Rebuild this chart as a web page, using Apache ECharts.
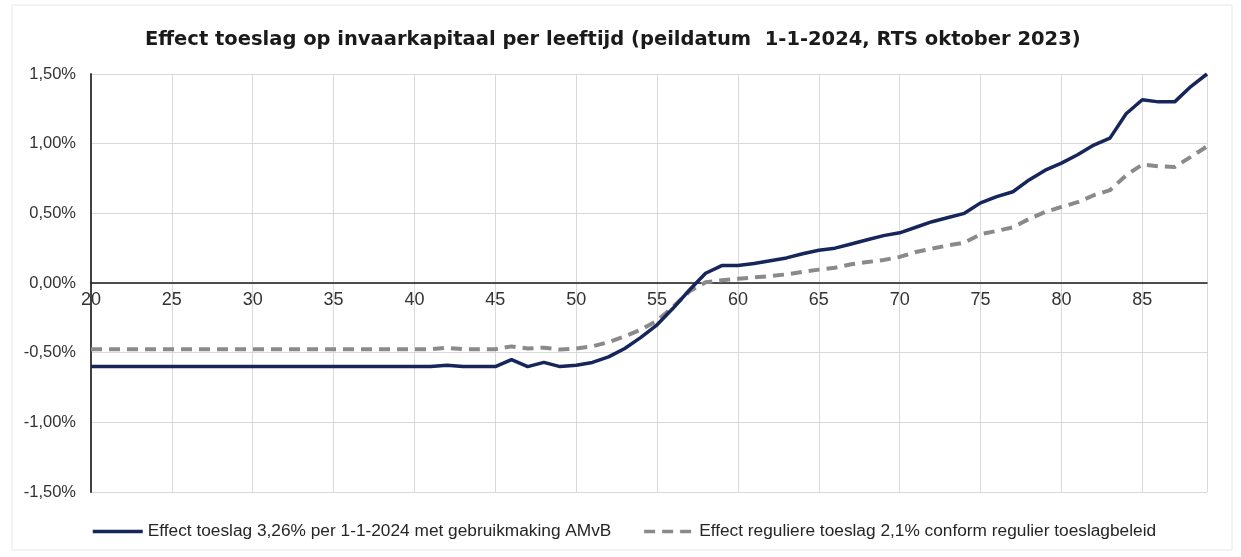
<!DOCTYPE html>
<html>
<head>
<meta charset="utf-8">
<script src="https://cdn.jsdelivr.net/npm/echarts@6/dist/echarts.min.js"></script>
<style>
  html, body { margin: 0; padding: 0; background: #fff; }
  #chart { width: 1241px; height: 557px; }
</style>
</head>
<body>
<div id="chart"></div>
<script>
// leeftijd 20..89
const ages = [];
for (let a = 20; a <= 89; a++) ages.push(a);

// effect toeslag 3,26% (in %), per leeftijd 20..89
const toeslagAmvb = [
  -0.60, -0.60, -0.60, -0.60, -0.60, -0.60, -0.60, -0.60, -0.60, -0.60, // 20-29
  -0.60, -0.60, -0.60, -0.60, -0.60, -0.60, -0.60, -0.60, -0.60, -0.60, // 30-39
  -0.60, -0.60, -0.59, -0.60, -0.60, -0.60, -0.55, -0.60, -0.57, -0.60, // 40-49
  -0.59, -0.57, -0.53, -0.47, -0.39, -0.30, -0.18, -0.05, 0.07, 0.125, // 50-59
  0.125, 0.14, 0.16, 0.18, 0.21, 0.235, 0.25, 0.28, 0.31, 0.34,        // 60-69
  0.36, 0.40, 0.44, 0.47, 0.50, 0.575, 0.62, 0.655, 0.74, 0.81,         // 70-79
  0.86, 0.92, 0.99, 1.04, 1.215, 1.315, 1.30, 1.30, 1.41, 1.50          // 80-89
];

// effect reguliere toeslag 2,1% (in %)
const toeslagRegulier = [
  -0.475, -0.475, -0.475, -0.475, -0.475, -0.475, -0.475, -0.475, -0.475, -0.475,
  -0.475, -0.475, -0.475, -0.475, -0.475, -0.475, -0.475, -0.475, -0.475, -0.475,
  -0.475, -0.475, -0.465, -0.475, -0.475, -0.475, -0.455, -0.47, -0.464, -0.478,
  -0.47, -0.455, -0.424, -0.383, -0.335, -0.27, -0.17, -0.06, 0.005, 0.02,
  0.03, 0.04, 0.05, 0.062, 0.08, 0.096, 0.11, 0.134, 0.15, 0.165,
  0.187, 0.223, 0.247, 0.27, 0.29, 0.35, 0.374, 0.40, 0.46, 0.51,
  0.546, 0.58, 0.63, 0.666, 0.773, 0.85, 0.838, 0.833, 0.905, 0.98
];

const yTicks = [-1.5, -1.0, -0.5, 0, 0.5, 1.0, 1.5];

const seriesNames = [
  'Effect toeslag 3,26% per 1-1-2024 met gebruikmaking AMvB',
  'Effect reguliere toeslag 2,1% conform regulier toeslagbeleid'
];

const chart = echarts.init(document.getElementById('chart'));

const pct = (v) => v.toFixed(2).replace('.', ',') + '%';

// x axis sits on the 0% line: half of the plot height up from the bottom
const gridTop = 74, gridBottom = 65;
const plotH = 557 - gridTop - gridBottom;
const zeroOffset = -plotH * (0 - yTicks[0]) / (yTicks[yTicks.length - 1] - yTicks[0]);

chart.setOption({
  animation: false,
  textStyle: { fontFamily: 'Liberation Sans, Arial, sans-serif' },
  title: {
    text: 'Effect toeslag op invaarkapitaal per leeftijd (peildatum  1-1-2024, RTS oktober 2023)',
    left: 140,
    top: 25,
    textStyle: { fontSize: 19.5, fontWeight: 'bold', color: '#1a1a1a', fontFamily: 'DejaVu Sans' }
  },
  graphic: [{
    type: 'rect',
    shape: { x: 12, y: 5, width: 1220, height: 545 },
    style: { fill: 'none', stroke: '#e8e8e8', lineWidth: 1 },
    silent: true
  }],
  legend: {
    bottom: 12,
    left: 86,
    itemWidth: 50,
    itemHeight: 12,
    itemGap: 31,
    itemStyle: { opacity: 0 },
    lineStyle: { width: 3.5 },
    textStyle: { fontSize: 17.3, color: '#262626' },
    data: seriesNames
  },
  grid: { left: 91, right: 34, top: gridTop, bottom: gridBottom },
  xAxis: {
    type: 'value',
    min: 20,
    max: 89,
    interval: 5,
    offset: zeroOffset,
    axisLine: { onZero: false, lineStyle: { color: '#1a1a1a', width: 1.5 } },
    axisTick: { show: false },
    axisLabel: { fontSize: 18, color: '#333', margin: 8, showMaxLabel: false },
    splitLine: { show: true, lineStyle: { color: '#d9d9d9', width: 1 } }
  },
  yAxis: {
    type: 'value',
    min: yTicks[0],
    max: yTicks[yTicks.length - 1],
    interval: 0.5,
    axisLine: { show: true, onZero: false, lineStyle: { color: '#404040', width: 2 } },
    axisTick: { show: false },
    axisLabel: { fontSize: 16.5, color: '#333', margin: 15, formatter: pct },
    splitLine: { show: true, lineStyle: { color: '#d9d9d9', width: 1 } }
  },
  series: [
    {
      name: seriesNames[0],
      type: 'line',
      data: ages.map((a, i) => [a, toeslagAmvb[i]]),
      showSymbol: false,
      symbol: 'none',
      color: '#16255a',
      lineStyle: { color: '#16255a', width: 3.5 },
      z: 3
    },
    {
      name: seriesNames[1],
      type: 'line',
      data: ages.map((a, i) => [a, toeslagRegulier[i]]),
      showSymbol: false,
      symbol: 'none',
      color: '#8a8a8a',
      lineStyle: { color: '#8a8a8a', width: 4, type: [11, 7] },
      z: 2
    }
  ]
});
</script>
</body>
</html>
